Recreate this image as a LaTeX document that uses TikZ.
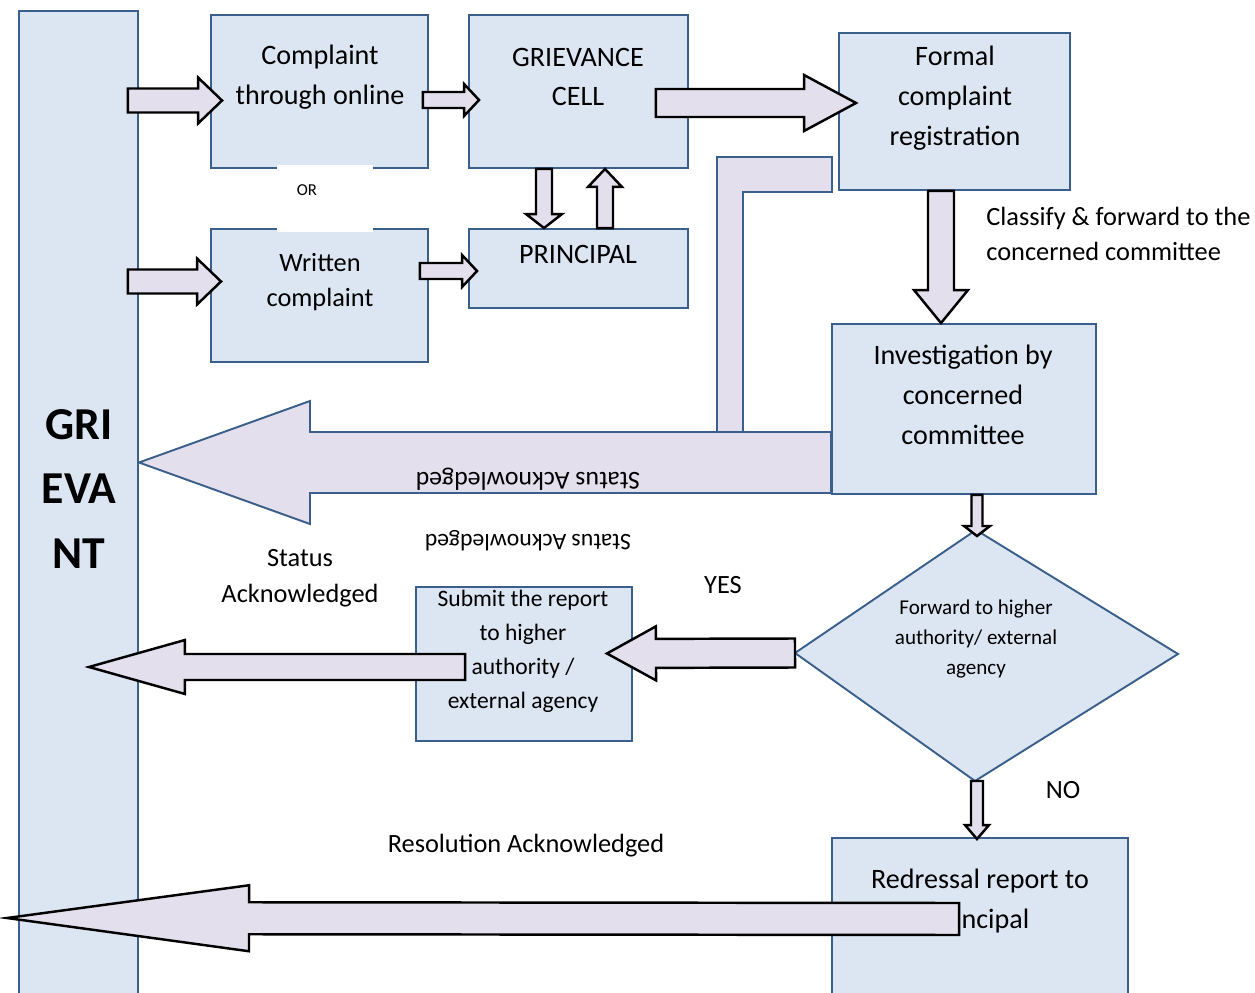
\documentclass[tikz,border=0pt]{standalone}
\usepackage{fontspec}
\setmainfont{Carlito}
\usetikzlibrary{calc,fit,backgrounds}

\definecolor{boxfill}{HTML}{DCE6F2}
\definecolor{boxline}{HTML}{3A5F8B}
\definecolor{arrowfill}{HTML}{E4DFEC}

\tikzset{
  box/.style={draw=boxline,fill=boxfill,line width=1.1pt,inner sep=0pt},
  fat/.style={draw=black,fill=arrowfill,line width=1.4pt,line join=miter},
  fatblue/.style={fat,draw=boxline,line width=1.1pt},
  txt/.style={align=center,inner sep=0pt,font=\fontsize{16}{22.7}\selectfont},
  lbl/.style={txt,font=\fontsize{15}{20.4}\selectfont},
}

% fat block arrow: [style]{tail}{tip}{shaft half width}{head half width}{head length}, sizes in px
\newcommand\fatarrow[6][]{%
  \coordinate (fa t) at #2;
  \coordinate (fa e) at #3;
  \coordinate (fa h) at ($(fa e)!#6*0.02cm!(fa t)$);
  \draw[fat,#1] ($(fa t)!#4*0.02cm!90:(fa e)$) -- ($(fa h)!#4*0.02cm!90:(fa e)$)
    -- ($(fa h)!#5*0.02cm!90:(fa e)$) -- (fa e) -- ($(fa h)!#5*0.02cm!-90:(fa e)$)
    -- ($(fa h)!#4*0.02cm!-90:(fa e)$) -- ($(fa t)!#4*0.02cm!-90:(fa e)$) -- cycle;
}

\begin{document}
\begin{tikzpicture}[x=0.02cm,y=-0.02cm]
\useasboundingbox (0,0) rectangle (1255,993);

% The grievant bar
\node[box,fit={(19,11) (138,1010)}] (grievant) {};
\node[txt,font=\bfseries\fontsize{26}{36.8}\selectfont] (grievant txt) at (79,489) {GRI\\EVA\\NT};

% The two ways in
\node[box,fit={(211,15) (428,168)}] (online) {};
\node[box,fit={(211,229) (428,362)}] (written) {};
\fill[white] (277,165) rectangle (373,232);
\node[txt,font=\fontsize{9.5}{11}\selectfont] (or) at (307,190) {OR};
\node[txt] (online txt) at (320,77) {Complaint\\through online};
\node[lbl] (written txt) at (320,282) {Written\\complaint};

% The cell and the principal
\node[box,fit={(469,15) (688,168)}] (cell) {};
\node[box,fit={(469,229) (688,308)}] (principal) {};
\node[txt] (cell txt) at (578,77) {GRIEVANCE\\CELL};
\node[txt] (principal txt) at (578,254) {PRINCIPAL};

% Registration and investigation
\node[box,fit={(839,33) (1070,190)}] (formal) {};
\node[box,fit={(832,324) (1096,494)}] (invest) {};
\node[txt] (formal txt) at (955,98) {Formal\\complaint\\registration};
\node[txt] (invest txt) at (963,395) {Investigation by\\concerned\\committee};
\node[lbl,align=left,anchor=west,font=\fontsize{15}{19.8}\selectfont] (classify) at (986,234) {Classify \& forward to the\\concerned committee};

% The decision
\coordinate (dec n) at (976,530);
\coordinate (dec e) at (1178,654);
\coordinate (dec s) at (975,781);
\coordinate (dec w) at (795,653);
\draw[box] (dec n) -- (dec e) -- (dec s) -- (dec w) -- cycle;
\node[txt,font=\fontsize{12}{17}\selectfont] (decide) at (976,639) {Forward to higher\\authority/ external\\agency};

% The two outcomes
\node[box,fit={(416,587) (632,741)}] (submit) {};
\node[txt,font=\fontsize{13.4}{19.3}\selectfont] (submit txt) at (523,651) {Submit the report\\to higher\\authority /\\external agency};
\node[box,fit={(832,838) (1128,1010)}] (redress) {};
\node[txt] (redress txt) at (980,901) {Redressal report to\\Principal};

% The labels
\node[lbl] (ack left) at (300,578) {Status\\Acknowledged};
\node[lbl] (yes) at (723,585) {YES};
\node[lbl] (no) at (1063,790) {NO};
\node[lbl] (resolution) at (526,846) {Resolution Acknowledged};
\node[lbl,rotate=180,font=\fontsize{13.5}{16}\selectfont] (ack mid) at (528,541) {Status Acknowledged};

% The status arrow, under the investigation box
\begin{pgfonlayer}{background}
\draw[fatblue] (717,432) -- (717,157) -- (832,157) -- (832,192) -- (743,192) -- (743,432);
\fatarrow[fatblue]{($(invest.west)+(0,53.5)$)}{($(grievant.east |- invest.west)+(0,53.5)$)}{30.5}{61.5}{171}
\end{pgfonlayer}
\node[lbl,rotate=180,font=\fontsize{14.7}{16}\selectfont] (ack big) at (528,479) {Status Acknowledged};

% The block arrows
\fatarrow{($(grievant.east |- online.west)+(-11,9)$)}{($(online.west)+(12,9)$)}{12}{23}{24}
\fatarrow{($(grievant.east |- written.west)+(-11,-14)$)}{($(written.west)+(11,-14)$)}{12}{23}{24}
\fatarrow{($(online.east)+(-6,8.5)$)}{($(cell.west)+(11,8.5)$)}{8}{16}{15}
\fatarrow{($(written.east)+(-9,-24.5)$)}{($(principal.west)+(9,2.5)$)}{8}{16}{15}
\fatarrow{($(cell.east)+(-33,11.5)$)}{($(formal.west)+(18,-8.5)$)}{14}{28}{52}
\fatarrow{($(cell.south)+(-34.5,0)$)}{($(principal.north)+(-34.5,0)$)}{8}{18}{14}
\fatarrow{($(principal.north)+(26.5,0)$)}{($(cell.south)+(26.5,0)$)}{8}{17}{18}
\fatarrow{($(formal.south)+(-13.5,0)$)}{($(invest.north)+(-23,0)$)}{13}{27}{33}
\fatarrow{($(invest.south)+(13,0)$)}{($(dec n)+(1,6)$)}{5.5}{13}{10}
\fatarrow{(dec w)}{($(submit.east)+(-26,-10.5)$)}{14.5}{27}{49}
\fatarrow{($(submit.west)+(50,3)$)}{($(grievant.east |- submit.west)+(-50,3)$)}{13}{27}{96}
\fatarrow{($(dec s)+(2,0)$)}{($(redress.north)+(-3,2)$)}{6}{12}{14}
\fatarrow{($(redress.west)+(128,-5)$)}{($(grievant.west |- redress.west)+(-11,-6)$)}{16}{33}{242}

\end{tikzpicture}
\end{document}
